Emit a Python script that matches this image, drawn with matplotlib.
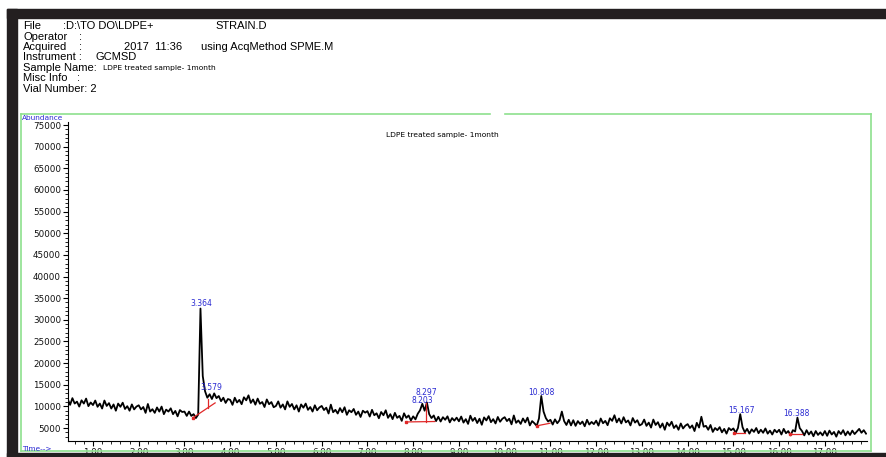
import numpy as np
import matplotlib
matplotlib.use("Agg")
import matplotlib.pyplot as plt
from matplotlib.lines import Line2D
from matplotlib.patches import Rectangle

# ---------------- data ----------------
scan_start = 0.45   # min
scan_step = 0.05    # min
abundance = [
    # 0.45 - 0.95
    11600, 10350, 11900, 10650, 11100, 9950, 11400, 10650, 11800, 10050, 10900,
    # 1.00 - 1.95
    10300, 11350, 9900, 10650, 9500, 11350, 10100, 10750, 9500, 10450,
    9000, 10650, 9900, 10850, 9400, 10050, 9000, 10450, 9300, 9950,
    # 2.00 - 2.95
    10250, 9300, 9850, 8500, 10550, 8800, 9350, 8500, 9750, 8800,
    9950, 8200, 9250, 8800, 9550, 8200, 8950, 7700, 9150, 8700,
    # 3.00 - 3.95
    8800, 7800, 8800, 7800, 8200, 7300, 8100, 32600, 17000, 13500,
    12000, 12800, 11700, 13000, 11900, 12400, 11200, 12000, 10800, 11700,
    # 4.00 - 4.95
    11500, 10350, 12000, 10900, 11500, 10500, 12100, 11400, 12550, 10800,
    11600, 10400, 11800, 10600, 11000, 9850, 11600, 10500, 11000, 9800,
    # 5.00 - 5.95
    10100, 11150, 9700, 10450, 9300, 11150, 9900, 10550, 9300, 10250,
    8800, 10450, 9700, 10650, 9200, 9850, 8800, 10250, 9100, 9750,
    # 6.00 - 6.95
    10100, 9150, 9700, 8350, 10400, 8650, 9200, 8350, 9600, 8650,
    9800, 8050, 9100, 8650, 9400, 8050, 8800, 7550, 9000, 8550,
    # 7.00 - 7.95
    8900, 7650, 9200, 7950, 8400, 7250, 8700, 7950, 9100, 7350,
    8200, 7050, 8500, 7350, 7800, 6650, 8400, 7350, 7900, 6750,
    # 8.00 - 8.95
    7700, 7000, 8300, 9100, 10600, 9000, 10900, 8200, 7300, 7900,
    6600, 7600, 6500, 7500, 6900, 7700, 6300, 7300, 6700, 7400,
    # 9.00 - 9.95
    6550, 7650, 6250, 7050, 5950, 7850, 6650, 7350, 6150, 7150,
    5750, 7450, 6750, 7750, 6350, 7050, 6050, 7550, 6450, 7150,
    # 10.00 - 10.95
    7500, 6600, 7150, 5850, 7900, 6200, 6750, 5950, 7200, 6300,
    7400, 5600, 6600, 6100, 5500, 7200, 12400, 8800, 7300, 6500,
    # 11.00 - 11.95
    6900, 5800, 7000, 6100, 6800, 8800, 6600, 5700, 6900, 5600,
    6800, 5500, 6600, 5900, 6500, 5400, 6900, 5800, 6400, 5900,
    # 12.00 - 12.95
    6700, 5550, 7200, 6100, 6650, 5650, 7250, 6650, 7950, 6300,
    7200, 6050, 7500, 6300, 6750, 5600, 7300, 6250, 6800, 5600,
    # 13.00 - 13.95
    5900, 6950, 5500, 6250, 5100, 6950, 5700, 6350, 5100, 6050,
    4600, 6250, 5500, 6450, 5000, 5650, 4600, 6050, 4900, 5550,
    # 14.00 - 14.95
    5900, 5000, 5600, 4300, 6200, 5100, 7600, 5300, 5500, 4600,
    5700, 4100, 5000, 4500, 5200, 4000, 4800, 3700, 5000, 4500,
    # 15.00 - 15.95
    4900, 3900, 5000, 8200, 5200, 4000, 4800, 3700, 4700, 4100,
    5000, 3800, 4600, 3900, 4900, 3700, 4400, 3500, 4600, 4000,
    # 16.00 - 16.95
    4600, 3500, 4800, 3800, 4300, 3300, 4500, 4200, 7400, 5000,
    4300, 3300, 4500, 3500, 4200, 3100, 4300, 3400, 4000, 3300,
    # 17.00 - 17.90
    4300, 3200, 4400, 3500, 4100, 3000, 4300, 3600, 4500, 3300,
    4200, 3400, 4400, 3600, 4200, 4800, 3900, 4500, 3700,
]

peak_rt = [3.364, 3.579, 8.203, 8.297, 10.808, 15.167, 16.388]
peak_labels = ["3.364", "3.579", "8.203", "8.297", "10.808", "15.167", "16.388"]
peak_label_y = [33800, 14300, 11400, 13300, 13300, 9100, 8350]

# integration baselines (red): (t0, v0) -> (t1, v1)
base_t0 = [3.19, 7.84, 10.70, 15.02, 16.24]
base_v0 = [7400, 6400, 5500, 3800, 3700]
base_t1 = [3.67, 8.47, 10.99, 15.25, 16.49]
base_v1 = [10800, 6500, 6100, 3800, 3700]
# drop lines (red)
drop_t = [3.52, 8.27]
drop_v0 = [9600, 6450]
drop_v1 = [11800, 10700]

x_ticks = list(range(1, 18))
y_ticks = list(range(5000, 75001, 5000))

# ---------------- figure ----------------
W, H = 886, 457
fig = plt.figure(figsize=(W / 100, H / 100), dpi=100)
fig.patch.set_facecolor("white")

def fx(px):
    return px / W

def fy(py):
    return 1 - py / H

# black frame bars
black = "#231f20"
fig.patches.append(Rectangle((fx(7), fy(17.5)), fx(886) - fx(7), fy(9) - fy(17.5),
                             transform=fig.transFigure, color=black, zorder=0))
fig.patches.append(Rectangle((fx(7), 0), fx(16.5) - fx(7), fy(9),
                             transform=fig.transFigure, color=black, zorder=0))
fig.patches.append(Rectangle((fx(7), 0), 1 - fx(7), fy(452.5),
                             transform=fig.transFigure, color=black, zorder=0))

# green plot frame
green = "#8ee08e"
for (x0, y0, x1, y1) in [(21, 114, 21, 451), (21, 451, 871, 451), (871, 114, 871, 451),
                         (21, 114, 490, 114), (505, 114, 871, 114)]:
    fig.lines.append(Line2D([fx(x0), fx(x1)], [fy(y0), fy(y1)], transform=fig.transFigure,
                            color=green, lw=1.2))

# header text
hfont = dict(family="Liberation Sans", fontsize=8, color="black", va="center", ha="left")
header = [
    (23, 26, "File"), (63, 26, r":D:\TO DO\LDPE+"), (215, 26, "STRAIN.D"),
    (23, 36.5, "Operator"), (79, 36.5, ":"),
    (23, 47, "Acquired"), (79, 47, ":"), (124, 47, "2017  11:36"), (201, 47, "using AcqMethod SPME.M"),
    (23, 57, "Instrument :"), (95, 57, "GCMSD"),
    (23, 68, "Sample Name:"),
    (23, 78, "Misc Info"), (77, 78, ":"),
    (23, 89, "Vial Number: 2"),
]
for px, py, s in header:
    fig.text(fx(px), fy(py), s, **hfont)
fig.text(fx(103), fy(68), "LDPE treated sample- 1month", family="DejaVu Sans",
         fontsize=5.4, color="black", va="center", ha="left")

blue = "#2a2ad2"
fig.text(fx(22), fy(118), "Abundance", family="DejaVu Sans", fontsize=5.3, color=blue,
         va="center", ha="left")
fig.text(fx(22), fy(449), "Time-->", family="DejaVu Sans", fontsize=5.3, color=blue,
         va="center", ha="left")
fig.text(fx(442), fy(135), "LDPE treated sample- 1month", family="DejaVu Sans",
         fontsize=5.4, color="black", va="center", ha="center")

# axes
ax = fig.add_axes([fx(68), fy(441), fx(866.5) - fx(68), fy(122) - fy(441)])
ax.set_facecolor("none")
t = scan_start + scan_step * np.arange(len(abundance))
ax.plot(t, abundance, color="black", lw=1.3, zorder=3)

for t0, v0, t1, v1 in zip(base_t0, base_v0, base_t1, base_v1):
    ax.plot([t0, t1], [v0, v1], color="#e02828", lw=0.9, zorder=4)
    ax.plot([t0], [v0], marker="s", ms=2, color="#e02828", zorder=4)
for tt, v0, v1 in zip(drop_t, drop_v0, drop_v1):
    ax.plot([tt, tt], [v0, v1], color="#e02828", lw=0.9, zorder=4)

for rt, lab, ly in zip(peak_rt, peak_labels, peak_label_y):
    ax.text(rt, ly, lab, family="DejaVu Sans", fontsize=5.5, color=blue,
            ha="center", va="center", zorder=5)

ax.set_xlim(0.454, 17.91)
ax.set_ylim(2000, 75700)
for s in ["top", "right"]:
    ax.spines[s].set_visible(False)
for s in ["left", "bottom"]:
    ax.spines[s].set_linewidth(0.8)
    ax.spines[s].set_color("black")

ax.set_xticks(x_ticks)
ax.set_xticklabels([f"{v:.2f}" for v in x_ticks])
ax.set_xticks(np.arange(0.6, 17.91, 0.2), minor=True)
ax.set_yticks(y_ticks)
ax.set_yticklabels([str(v) for v in y_ticks])
ax.set_yticks(np.arange(3000, 75700, 1000), minor=True)
ax.tick_params(axis="both", which="major", direction="out", length=3.5, width=0.8,
               labelsize=6.3, colors="black", pad=1.5)
ax.tick_params(axis="both", which="minor", direction="out", length=2, width=0.6)
for lab in ax.get_xticklabels() + ax.get_yticklabels():
    lab.set_family("DejaVu Sans")
    lab.set_color("#111111")

fig.savefig("out.png", dpi=100, facecolor="white")
